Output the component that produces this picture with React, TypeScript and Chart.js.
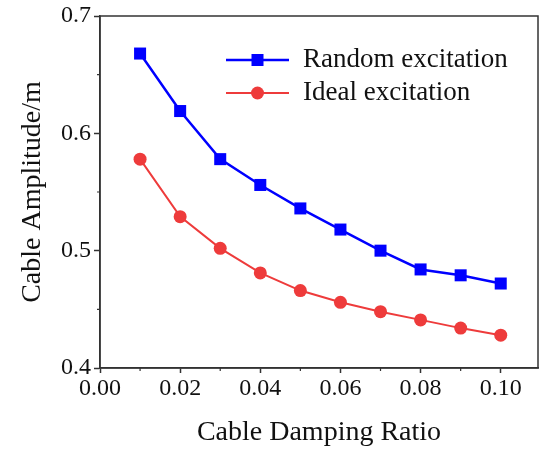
import React, { useEffect, useRef } from "react";
import { Chart, registerables } from "chart.js";

Chart.register(...registerables);

const dampingRatios = [0.01, 0.02, 0.03, 0.04, 0.05, 0.06, 0.07, 0.08, 0.09, 0.1];
const randomExcitation = [0.668, 0.619, 0.578, 0.556, 0.536, 0.518, 0.5, 0.484, 0.479, 0.472];
const idealExcitation = [0.578, 0.529, 0.502, 0.481, 0.466, 0.456, 0.448, 0.441, 0.434, 0.428];
const seriesNames = ["Random excitation", "Ideal excitation"];
const xMajorTicks = [0, 0.02, 0.04, 0.06, 0.08, 0.1];
const yMajorTicks = [0.4, 0.5, 0.6, 0.7];
const xMinorTicks = [0.01, 0.03, 0.05, 0.07, 0.09];
const yMinorTicks = [0.45, 0.55, 0.65];

const BLUE = "#0000FF";
const RED = "#EE3B3B";
const AXIS = "#333333";
const FONT = "'Liberation Serif', 'Times New Roman', serif";

const framePlugin = {
  id: "frameAndMinor",
  afterDraw(chart: any) {
    const { ctx, chartArea } = chart;
    const { left, right, top, bottom } = chartArea;
    ctx.save();
    ctx.strokeStyle = AXIS;
    ctx.lineWidth = 1.5;
    ctx.strokeRect(left, top, right - left, bottom - top);
    ctx.lineWidth = 1.2;
    const xs = chart.scales.x;
    const ys = chart.scales.y;
    ctx.beginPath();
    xMinorTicks.forEach((v) => {
      const px = xs.getPixelForValue(v);
      ctx.moveTo(px, bottom);
      ctx.lineTo(px, bottom + 3);
    });
    yMinorTicks.forEach((v) => {
      const py = ys.getPixelForValue(v);
      ctx.moveTo(left, py);
      ctx.lineTo(left - 3, py);
    });
    ctx.stroke();

    const rows = [
      { name: seriesNames[0], color: BLUE, shape: "rect", y: top + 44, w: 2.5 },
      { name: seriesNames[1], color: RED, shape: "circle", y: top + 77, w: 2 },
    ];
    const lineStart = left + 126;
    const lineEnd = left + 189;
    const mid = (lineStart + lineEnd) / 2;
    rows.forEach((r) => {
      ctx.strokeStyle = r.color;
      ctx.lineWidth = r.w;
      ctx.beginPath();
      ctx.moveTo(lineStart, r.y);
      ctx.lineTo(lineEnd, r.y);
      ctx.stroke();
      ctx.fillStyle = r.color;
      if (r.shape === "rect") {
        ctx.fillRect(mid - 6, r.y - 6, 12, 12);
      } else {
        ctx.beginPath();
        ctx.arc(mid, r.y, 6.5, 0, Math.PI * 2);
        ctx.fill();
      }
      ctx.fillStyle = "#111";
      ctx.font = `27px ${FONT}`;
      ctx.textAlign = "left";
      ctx.textBaseline = "middle";
      ctx.fillText(r.name, left + 203, r.y);
    });
    ctx.restore();
  },
};

export default function App() {
  const ref = useRef<HTMLCanvasElement>(null);
  useEffect(() => {
    if (!ref.current) return;
    const chart = new Chart(ref.current, {
      type: "line",
      data: {
        datasets: [
          {
            label: seriesNames[0],
            data: dampingRatios.map((x, i) => ({ x, y: randomExcitation[i] })),
            borderColor: BLUE,
            backgroundColor: BLUE,
            borderWidth: 2.5,
            pointStyle: "rect",
            pointRadius: 8.5,
            pointBorderWidth: 0,
            tension: 0,
          },
          {
            label: seriesNames[1],
            data: dampingRatios.map((x, i) => ({ x, y: idealExcitation[i] })),
            borderColor: RED,
            backgroundColor: RED,
            borderWidth: 2,
            pointStyle: "circle",
            pointRadius: 6.5,
            pointBorderWidth: 0,
            tension: 0,
          },
        ],
      },
      options: {
        animation: false,
        responsive: false,
        devicePixelRatio: 1,
        layout: { autoPadding: false, padding: { top: 16, right: 1, left: 0, bottom: 0 } },
        plugins: { legend: { display: false }, tooltip: { enabled: false } },
        scales: {
          x: {
            type: "linear",
            min: 0,
            max: 0.1093,
            afterBuildTicks: (scale: any) => {
              scale.ticks = xMajorTicks.map((v) => ({ value: v }));
            },
            afterFit: (scale: any) => {
              scale.height = 84;
              scale.paddingLeft = 0;
              scale.paddingRight = 0;
            },
            ticks: {
              callback: (v: any) => Number(v).toFixed(2),
              font: { family: FONT, size: 24 },
              color: "#111",
              padding: 1,
              maxRotation: 0,
              autoSkip: false,
            },
            grid: {
              drawOnChartArea: false,
              drawTicks: true,
              tickLength: 5,
              tickColor: AXIS,
              tickWidth: 1.5,
            },
            border: { display: true, color: AXIS, width: 1.5 },
            title: {
              display: true,
              text: "Cable Damping Ratio",
              font: { family: FONT, size: 28 },
              color: "#111",
              padding: { top: 0, bottom: 3 },
            },
          },
          y: {
            type: "linear",
            min: 0.4,
            max: 0.7,
            afterBuildTicks: (scale: any) => {
              scale.ticks = yMajorTicks.map((v) => ({ value: v }));
            },
            afterFit: (scale: any) => {
              scale.width = 100;
              scale.paddingTop = 0;
              scale.paddingBottom = 0;
            },
            ticks: {
              callback: (v: any) => Number(v).toFixed(1),
              font: { family: FONT, size: 24 },
              color: "#111",
              padding: 3,
            },
            grid: {
              drawOnChartArea: false,
              drawTicks: true,
              tickLength: 6,
              tickColor: AXIS,
              tickWidth: 1.5,
            },
            border: { display: true, color: AXIS, width: 1.5 },
            title: {
              display: true,
              text: "Cable Amplitude/m",
              font: { family: FONT, size: 28 },
              color: "#111",
              padding: { top: 16, bottom: 0 },
            },
          },
        },
      },
      plugins: [framePlugin],
    });
    return () => chart.destroy();
  }, []);
  return (
    <div style={{ position: "fixed", left: 0, top: 0, width: 539, height: 452, background: "#fff" }}>
      <canvas ref={ref} width={539} height={452} style={{ width: 539, height: 452 }} />
    </div>
  );
}
